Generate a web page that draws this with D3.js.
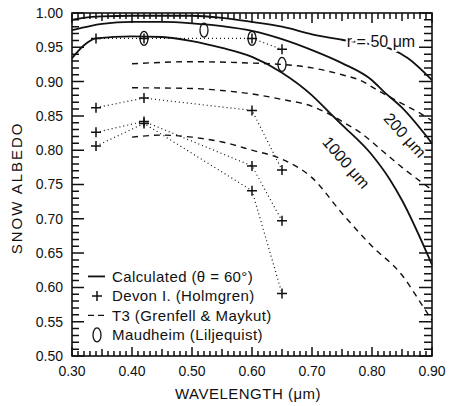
<!DOCTYPE html>
<html>
<head>
<meta charset="utf-8">
<script src="https://cdn.jsdelivr.net/npm/d3@7"></script>
<style>
  body { margin: 0; background: #fff; }
  svg text { font-family: "Liberation Sans", Arial, sans-serif; fill: #111; }
</style>
</head>
<body>
<svg id="chart"></svg>
<script>
// calculated albedo, theta = 60 deg  [wavelength, albedo]
var calc50 = [[0.30,0.990],[0.32,0.993],[0.35,0.995],[0.40,0.996],[0.50,0.996],[0.55,0.993],
  [0.60,0.987],[0.65,0.980],[0.70,0.969],[0.75,0.961],[0.80,0.954],[0.83,0.948],[0.86,0.934],[0.90,0.902]];
var calc200 = [[0.30,0.975],[0.33,0.981],[0.35,0.984],[0.40,0.987],[0.45,0.987],[0.50,0.985],[0.55,0.981],
  [0.60,0.974],[0.65,0.962],[0.70,0.946],[0.75,0.927],[0.80,0.902],[0.82,0.885],[0.85,0.862],[0.90,0.810]];
var calc1000 = [[0.30,0.934],[0.32,0.953],[0.34,0.963],[0.40,0.966],[0.45,0.965],[0.50,0.959],[0.55,0.949],
  [0.60,0.936],[0.65,0.913],[0.70,0.880],[0.73,0.854],[0.75,0.837],[0.80,0.793],[0.83,0.757],[0.85,0.727],[0.90,0.633]];

// Devon I. (Holmgren)
var devonWl = [0.34, 0.42, 0.60, 0.65];
var devon1 = [0.963, 0.963, 0.963, 0.947];
var devon2 = [0.862, 0.876, 0.858, 0.771];
var devon3 = [0.826, 0.842, 0.777, 0.697];
var devon4 = [0.806, 0.839, 0.741, 0.591];

// T3 (Grenfell & Maykut)
var t3a = [[0.40,0.926],[0.50,0.929],[0.60,0.927],[0.65,0.925],[0.70,0.920],[0.75,0.910],[0.78,0.902],
  [0.81,0.887],[0.85,0.868],[0.88,0.854],[0.90,0.843]];
var t3b = [[0.40,0.891],[0.50,0.890],[0.55,0.887],[0.60,0.882],[0.65,0.874],[0.70,0.864],[0.73,0.852],
  [0.75,0.842],[0.78,0.826],[0.82,0.797],[0.85,0.775],[0.88,0.755],[0.90,0.742]];
var t3c = [[0.40,0.819],[0.45,0.822],[0.50,0.819],[0.55,0.812],[0.60,0.800],[0.65,0.787],[0.70,0.760],
  [0.75,0.708],[0.80,0.660],[0.85,0.618],[0.88,0.579],[0.90,0.552]];

// Maudheim (Liljequist)
var maudWl = [0.42, 0.52, 0.60, 0.65];
var maudAlb = [0.963, 0.975, 0.963, 0.925];

var xLabels = [0.30, 0.40, 0.50, 0.60, 0.70, 0.80, 0.90];
var yLabels = [0.50, 0.55, 0.60, 0.65, 0.70, 0.75, 0.80, 0.85, 0.90, 0.95, 1.00];

var margin = {top: 13, right: 18, bottom: 50, left: 72},
    width = 450 - margin.left - margin.right,
    height = 406 - margin.top - margin.bottom;

var svg = d3.select("#chart")
    .attr("width", 450)
    .attr("height", 406)
  .append("g")
    .attr("transform", "translate(" + margin.left + "," + margin.top + ")");

var x = d3.scaleLinear().domain([0.30, 0.90]).range([0, width]);
var y = d3.scaleLinear().domain([0.50, 1.00]).range([height, 0]);

var fmt = d3.format(".2f");
function rng(a, b, s) { return d3.range(Math.round(a / s), Math.round(b / s) + 1).map(function(i) { return +(i * s).toFixed(2); }); }
function isMult(v, s) { return Math.abs(v / s - Math.round(v / s)) < 1e-6; }

// ticks, all pointing inward, drawn as one path
var tp = d3.path();
rng(0.30, 0.90, 0.01).forEach(function(v) {
  var len = isMult(v, 0.1) ? 9 : (isMult(v, 0.05) ? 7 : 5);
  tp.moveTo(x(v), height); tp.lineTo(x(v), height - len);
  tp.moveTo(x(v), 0); tp.lineTo(x(v), len + 1);
});
rng(0.50, 1.00, 0.01).forEach(function(v) {
  var len = isMult(v, 0.05) ? 12 : 7;
  tp.moveTo(0, y(v)); tp.lineTo(len, y(v));
  tp.moveTo(width, y(v)); tp.lineTo(width - len - 1, y(v));
});
svg.append("path").attr("d", tp.toString())
  .attr("fill", "none").attr("stroke", "#111").attr("stroke-width", 1.5);

svg.selectAll(".xl").data(xLabels).enter().append("text")
  .attr("x", function(d) { return x(d); }).attr("y", height + 15)
  .attr("text-anchor", "middle").attr("dy", "0.35em").style("font-size", "14px")
  .text(fmt);
svg.selectAll(".yl").data(yLabels).enter().append("text")
  .attr("x", -9).attr("y", function(d) { return y(d); })
  .attr("text-anchor", "end").attr("dy", "0.35em").style("font-size", "14px")
  .text(fmt);

svg.append("rect")
  .attr("width", width).attr("height", height)
  .attr("fill", "none").attr("stroke", "#111").attr("stroke-width", 1.6);

var line = d3.line()
  .x(function(d) { return x(d[0]); })
  .y(function(d) { return y(d[1]); })
  .curve(d3.curveMonotoneX);

// T3 dashed
[t3a, t3b, t3c].forEach(function(s) {
  svg.append("path").datum(s).attr("d", line)
    .attr("fill", "none").attr("stroke", "#111").attr("stroke-width", 1.4)
    .attr("stroke-dasharray", "6,5");
});

// Devon dotted lines and crosses
var devonLine = d3.line()
  .x(function(d) { return x(d[0]); })
  .y(function(d) { return y(d[1]); });
[devon1, devon2, devon3, devon4].forEach(function(s) {
  var pts = devonWl.map(function(w, i) { return [w, s[i]]; });
  svg.append("path").datum(pts).attr("d", devonLine)
    .attr("fill", "none").attr("stroke", "#111").attr("stroke-width", 1.2)
    .attr("stroke-dasharray", "1,3");
  svg.selectAll(null).data(pts).enter().append("path")
    .attr("d", function(d) {
      var cx = x(d[0]), cy = y(d[1]);
      return "M" + (cx - 5) + "," + cy + "H" + (cx + 5) + "M" + cx + "," + (cy - 5) + "V" + (cy + 5);
    })
    .attr("stroke", "#111").attr("stroke-width", 1.5);
});

// calculated curves
[calc50, calc200, calc1000].forEach(function(s) {
  svg.append("path").datum(s).attr("d", line)
    .attr("fill", "none").attr("stroke", "#111").attr("stroke-width", 1.8);
});

// Maudheim ellipses
svg.selectAll(".maud").data(maudWl).enter().append("ellipse")
  .attr("class", "maud")
  .attr("cx", function(d) { return x(d); })
  .attr("cy", function(d, i) { return y(maudAlb[i]); })
  .attr("rx", 4).attr("ry", 7)
  .attr("fill", "none").attr("stroke", "#111").attr("stroke-width", 1.3);

// curve labels
function curveLabel(txt, wl, alb, rot) {
  svg.append("text")
    .attr("transform", "translate(" + x(wl) + "," + y(alb) + ") rotate(" + rot + ")")
    .attr("text-anchor", "middle").attr("dy", "0.35em")
    .style("font-size", "16px")
    .style("paint-order", "stroke").attr("stroke", "#fff").attr("stroke-width", 4)
    .text(txt);
}
curveLabel("r = 50 \u03bcm", 0.815, 0.959, 0);
curveLabel("200 \u03bcm", 0.855, 0.822, 48);
curveLabel("1000 \u03bcm", 0.757, 0.782, 49);

// legend
var legend = svg.append("g").attr("transform", "translate(16," + y(0.616) + ")");
var items = ["Calculated  (\u03b8 = 60\u00b0)", "Devon I. (Holmgren)", "T3 (Grenfell & Maykut)", "Maudheim (Liljequist)"];
items.forEach(function(t, i) {
  var g = legend.append("g").attr("transform", "translate(0," + (i * 19.5) + ")");
  if (i == 0) g.append("line").attr("x1", 0).attr("x2", 17).attr("stroke", "#111").attr("stroke-width", 1.8);
  if (i == 1) g.append("path").attr("d", "M4,0H14M9,-5V5").attr("stroke", "#111").attr("stroke-width", 1.5);
  if (i == 2) g.append("line").attr("x1", 0).attr("x2", 17).attr("stroke", "#111").attr("stroke-width", 1.4).attr("stroke-dasharray", "6,4");
  if (i == 3) g.append("ellipse").attr("cx", 9).attr("cy", 0).attr("rx", 4).attr("ry", 7).attr("fill", "none").attr("stroke", "#111").attr("stroke-width", 1.3);
  g.append("text").attr("x", 24).attr("dy", "0.35em").style("font-size", "15px").style("letter-spacing", "0.4px").text(t);
});

// axis titles
svg.append("text")
  .attr("x", width / 2 - 4).attr("y", height + 43)
  .attr("text-anchor", "middle").style("font-size", "15px").style("letter-spacing", "0.5px")
  .text("WAVELENGTH (\u03bcm)");
svg.append("text")
  .attr("transform", "translate(" + (-50) + "," + (y(0.745)) + ") rotate(-90)")
  .attr("text-anchor", "middle").style("font-size", "15px").style("letter-spacing", "2px")
  .text("SNOW  ALBEDO");
</script>
</body>
</html>
